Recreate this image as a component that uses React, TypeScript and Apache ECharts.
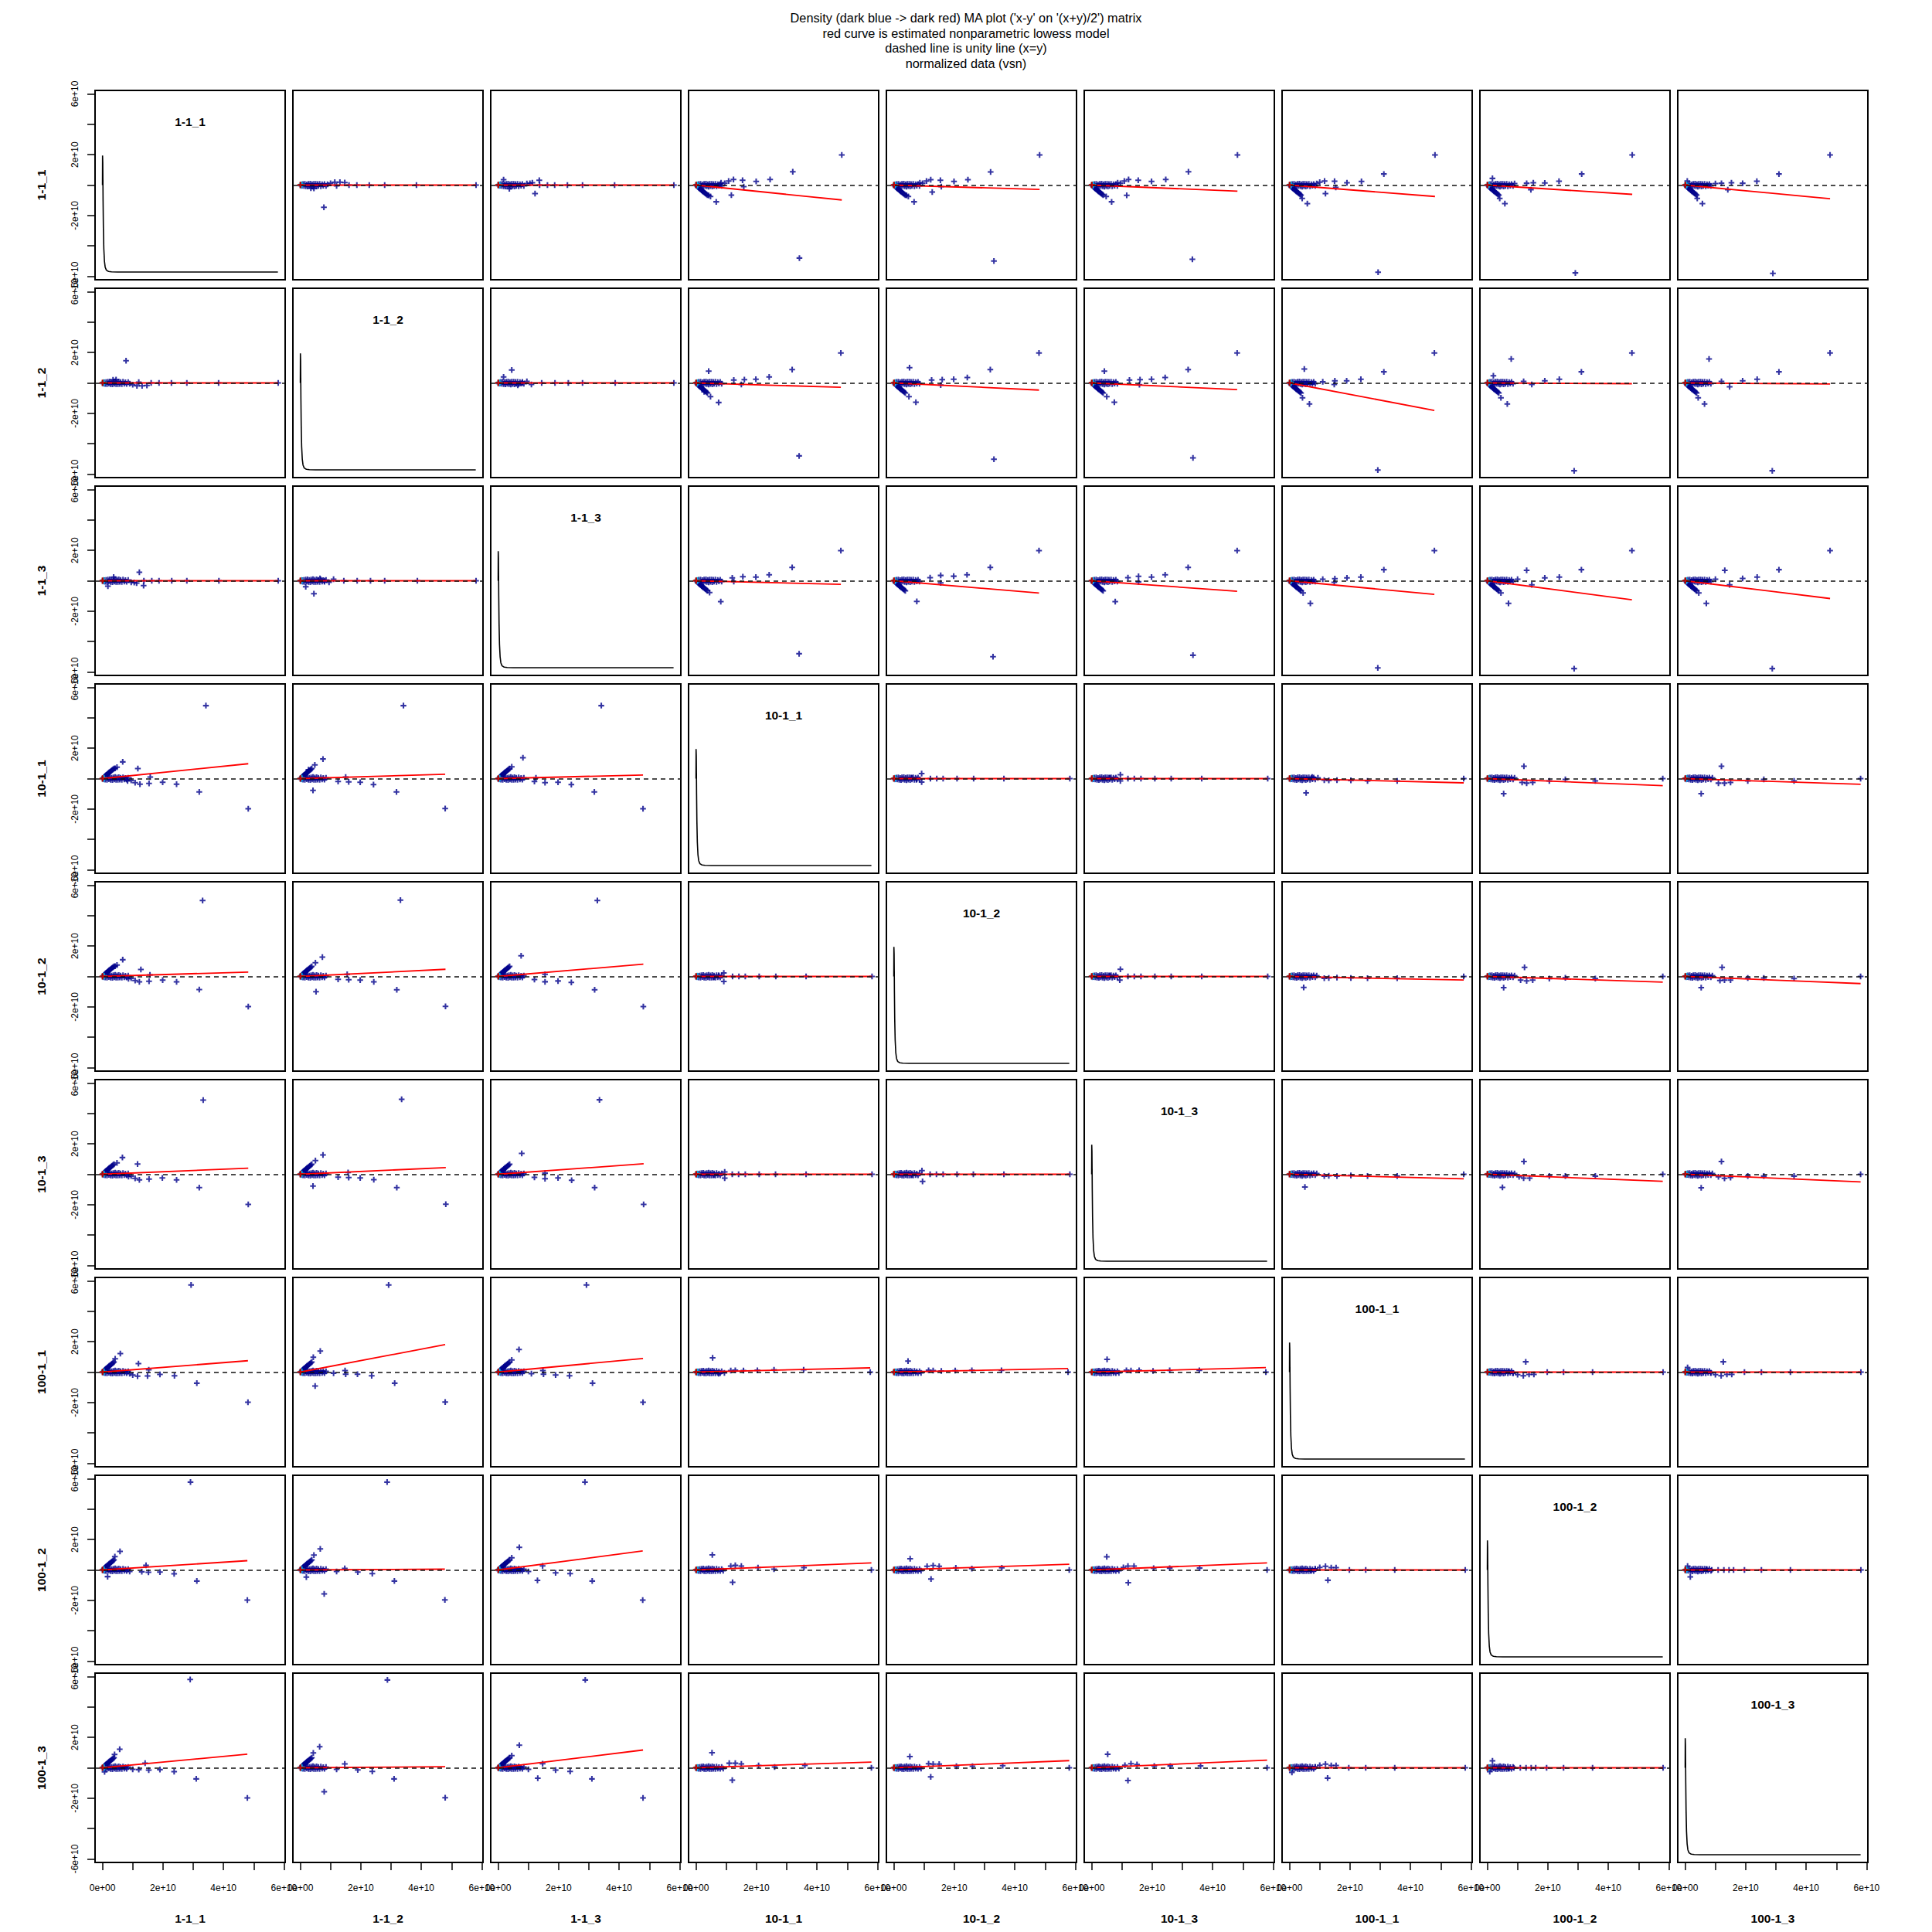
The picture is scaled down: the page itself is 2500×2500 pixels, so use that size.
import React, { useEffect, useRef } from 'react';
import * as echarts from 'echarts';

// ---------------- data (values in units of 1e10) ----------------
const sampleNames = ['1-1_1', '1-1_2', '1-1_3', '10-1_1', '10-1_2', '10-1_3', '100-1_1', '100-1_2', '100-1_3'];
const titleLines = [
  "Density (dark blue -> dark red) MA plot ('x-y' on '(x+y)/2') matrix",
  'red curve is estimated nonparametric lowess model',
  'dashed line is unity line (x=y)',
  'normalized data (vsn)',
];
const xTickValues = [0, 1, 2, 3, 4, 5, 6];
const xLabelValues = [0, 2, 4, 6];
const yTickValues = [-6, -4, -2, 0, 2, 4, 6];
const yLabelValues = [-6, -2, 2, 6];

// density curve on the diagonal panels (x = value, y = rescaled density)
const densityA = [0.0, 0.003, 0.006, 0.01, 0.015, 0.02, 0.03, 0.045, 0.065, 0.09, 0.13, 0.2, 0.3, 0.5, 1.0, 2.0, 3.5, 5.8];
const densityM = [0.0, 1.95, 1.95, 1.5, 0.3, -1.0, -2.8, -4.2, -5.0, -5.4, -5.6, -5.68, -5.71, -5.72, -5.72, -5.72, -5.72, -5.72];

// dense core of points near the origin (all panels)
const coreBand = [
  [0.03, 0.02], [0.06, -0.04], [0.09, 0.06], [0.12, -0.05], [0.15, 0.08], [0.18, -0.07], [0.21, 0.04],
  [0.24, -0.09], [0.27, 0.07], [0.3, -0.05], [0.33, 0.09], [0.36, -0.08], [0.39, 0.05], [0.42, -0.1],
  [0.45, 0.07], [0.48, -0.06], [0.51, 0.08], [0.54, -0.09], [0.57, 0.06], [0.6, -0.05], [0.64, 0.07],
  [0.68, -0.07], [0.72, 0.05], [0.76, -0.04], [0.8, 0.06], [0.85, -0.05],
];
// fan of points near the origin (1-1 samples against 10-1 / 100-1 samples)
const coreFan = [
  [0.05, -0.09], [0.07, -0.13], [0.09, -0.17], [0.11, -0.2], [0.13, -0.24], [0.15, -0.27], [0.17, -0.31],
  [0.19, -0.34], [0.21, -0.38], [0.23, -0.42], [0.26, -0.46], [0.29, -0.51], [0.32, -0.56], [0.35, -0.61],
  [0.38, -0.66],
];
// density-coloured points at the origin
const originDots = [[0.04, 0.04], [0.03, -0.04], [0.05, 0.0], [0.01, 0.01], [0.0, 0.0]];
const originDotColors = ['#00CED1', '#1E90FF', '#00BFFF', '#FF0000', '#8B0000'];

// outlying points per upper-triangle panel: [A, M]
const p01 = [[1.14, 0.19], [1.31, 0.19], [1.47, 0.17], [1.0, 0.12], [0.78, -1.46], [0.35, -0.2], [0.45, -0.22], [1.61, 0], [1.87, 0], [2.28, 0], [2.79, 0], [3.84, 0], [5.81, 0], [0.9, 0.05], [1.2, -0.05]];
const p02 = [[1.36, 0.32], [1.13, 0.15], [0.18, 0.36], [0.37, -0.24], [1.22, -0.56], [1.37, 0], [1.63, 0], [1.87, 0], [2.29, 0], [2.79, 0], [3.85, 0], [5.81, 0], [0.95, 0.1], [1.05, 0.12]];
const p03 = [[4.82, 1.98], [3.42, -4.8], [3.2, 0.88], [2.45, 0.37], [1.99, 0.24], [1.54, 0.32], [1.58, -0.1], [1.24, 0.37], [1.08, 0.27], [1.17, -0.66], [0.83, 0.15], [0.67, -1.1], [0.48, -0.75], [0.42, -0.68], [0.95, 0.12]];
const p04 = [[4.82, 1.98], [3.31, -5.0], [3.2, 0.86], [2.45, 0.36], [1.99, 0.24], [1.54, 0.32], [1.57, -0.1], [1.22, 0.36], [1.08, 0.27], [1.27, -0.46], [0.86, 0.15], [0.67, -1.1], [0.48, -0.75], [0.42, -0.68], [0.95, 0.12]];
const p05 = [[4.82, 1.98], [3.33, -4.88], [3.2, 0.88], [2.45, 0.37], [1.98, 0.24], [1.54, 0.32], [1.16, -0.67], [1.22, 0.37], [1.08, 0.27], [0.66, -1.1], [0.48, -0.75], [0.86, 0.15], [0.95, 0.12]];
const p06 = [[4.81, 1.98], [2.93, -5.73], [3.12, 0.73], [2.38, 0.24], [1.9, 0.15], [1.49, 0.25], [1.53, -0.15], [1.16, 0.27], [1.0, 0.19], [1.19, -0.56], [0.59, -1.22], [0.42, -0.88], [0.9, 0.1]];
const p07 = [[4.79, 1.98], [2.91, -5.78], [3.12, 0.73], [2.37, 0.25], [1.9, 0.14], [1.52, 0.15], [1.44, -0.3], [1.3, 0.12], [0.58, -1.22], [0.41, -0.88], [0.17, 0.44], [0.9, 0.1]];
const p08 = [[4.79, 1.98], [2.9, -5.81], [3.1, 0.73], [2.37, 0.25], [1.9, 0.12], [1.53, 0.15], [1.41, -0.3], [1.0, 0.1], [0.57, -1.22], [0.4, -0.88], [0.07, 0.27], [1.2, 0.12]];
const p12 = [[0.45, 0.85], [0.18, 0.39], [0.8, 0], [1.44, 0], [1.88, 0], [2.32, 0], [2.79, 0], [3.87, 0], [5.81, 0], [0.95, 0.1], [1.1, -0.1], [0.65, -0.15]];
const p13 = [[4.79, 1.97], [3.41, -4.8], [3.18, 0.88], [2.42, 0.39], [1.98, 0.24], [1.6, 0.22], [1.25, 0.19], [0.42, 0.78], [0.75, -1.29], [0.48, -0.9], [0.27, -0.58], [1.5, -0.1]];
const p14 = [[4.8, 1.97], [3.31, -5.02], [3.19, 0.88], [2.43, 0.36], [1.98, 0.24], [1.6, 0.22], [1.25, 0.19], [0.52, 1.0], [0.73, -1.27], [0.5, -0.9], [1.55, -0.14]];
const p15 = [[4.81, 1.97], [3.35, -4.93], [3.19, 0.88], [2.43, 0.36], [1.98, 0.24], [1.6, 0.22], [1.25, 0.19], [0.42, 0.78], [0.75, -1.27], [0.5, -0.9], [1.58, -0.12]];
const p16 = [[4.79, 1.97], [2.92, -5.73], [3.12, 0.73], [2.36, 0.24], [1.89, 0.14], [1.5, 0.14], [1.48, -0.1], [1.1, 0.07], [0.49, 0.92], [0.66, -1.39], [0.43, -0.98]];
const p17 = [[4.78, 1.97], [2.87, -5.78], [3.11, 0.73], [2.38, 0.24], [1.9, 0.14], [1.47, -0.1], [0.79, 1.58], [0.66, -1.39], [0.45, -0.98], [0.2, 0.47], [1.2, 0.1]];
const p18 = [[4.79, 1.97], [2.88, -5.78], [3.1, 0.73], [2.38, 0.24], [1.9, 0.14], [1.47, -0.25], [0.79, 1.58], [0.64, -1.39], [0.43, -0.98], [1.2, 0.1]];
const p23 = [[4.79, 1.98], [3.41, -4.8], [3.18, 0.88], [2.42, 0.39], [1.98, 0.24], [1.55, 0.27], [1.2, 0.19], [0.82, -1.37], [0.45, -0.78], [1.25, -0.05]];
const p24 = [[4.8, 1.98], [3.28, -5.0], [3.19, 0.88], [2.42, 0.39], [1.98, 0.3], [1.55, 0.35], [0.76, -1.36], [1.55, -0.14], [1.2, 0.2]];
const p25 = [[4.81, 1.98], [3.35, -4.9], [3.19, 0.88], [2.43, 0.39], [1.98, 0.24], [1.55, 0.29], [1.2, 0.2], [0.78, -1.37], [1.55, -0.07]];
const p26 = [[4.79, 1.98], [2.92, -5.73], [3.12, 0.73], [2.36, 0.24], [1.9, 0.19], [1.5, 0.14], [1.48, -0.1], [0.69, -1.49], [0.45, -0.8], [1.1, 0.1]];
const p27 = [[4.78, 1.98], [2.87, -5.78], [3.11, 0.73], [2.38, 0.24], [1.9, 0.19], [1.47, -0.27], [1.3, 0.69], [0.7, -1.49], [0.45, -0.8], [1.0, 0.1]];
const p28 = [[4.79, 1.98], [2.88, -5.78], [3.1, 0.73], [2.38, 0.24], [1.9, 0.15], [1.47, -0.27], [1.31, 0.69], [0.7, -1.49], [0.45, -0.8], [1.0, 0.1]];
const p34 = [[0.92, 0.33], [0.92, -0.23], [1.21, 0], [1.42, 0], [1.63, 0], [2.09, 0], [2.64, 0], [3.64, 0], [5.82, 0], [0.6, 0.05], [0.75, -0.08]];
const p35 = [[0.95, 0.25], [0.95, -0.15], [1.2, 0], [1.41, 0], [1.63, 0], [2.09, 0], [2.63, 0], [3.64, 0], [5.82, 0], [0.6, 0.05]];
const p36 = [[0.55, -0.94], [0.94, 0.05], [1.15, -0.1], [1.57, -0.1], [2.03, -0.12], [2.58, -0.15], [3.56, -0.15], [5.76, 0], [0.75, 0.1], [1.3, -0.12]];
const p37 = [[1.21, 0.81], [0.54, -0.99], [1.15, -0.25], [1.3, -0.3], [1.5, -0.25], [2.05, -0.15], [2.58, -0.05], [3.57, -0.15], [5.8, 0], [0.9, 0.05]];
const p38 = [[1.2, 0.81], [0.53, -0.99], [1.1, -0.3], [1.3, -0.3], [1.5, -0.25], [2.07, -0.15], [2.6, -0.05], [3.6, -0.15], [5.8, 0], [0.9, 0.05]];
const p45 = [[0.95, 0.47], [0.93, -0.24], [1.2, 0], [1.41, 0], [1.63, 0], [2.09, 0], [2.63, 0], [3.64, 0], [5.82, 0], [0.6, 0.05]];
const p46 = [[0.47, -0.72], [0.9, 0.05], [1.15, -0.12], [1.57, -0.07], [2.03, -0.1], [2.58, -0.12], [3.56, -0.12], [5.76, 0], [1.3, -0.1]];
const p47 = [[1.23, 0.6], [0.54, -0.74], [1.1, -0.24], [1.3, -0.29], [1.5, -0.24], [2.05, -0.14], [2.58, -0.09], [3.57, -0.14], [5.8, 0], [0.9, 0.05]];
const p48 = [[1.22, 0.6], [0.53, -0.74], [1.15, -0.27], [1.3, -0.24], [1.5, -0.24], [2.07, -0.1], [2.6, -0.1], [3.6, -0.14], [5.8, 0], [0.9, 0.05]];
const p56 = [[0.51, -0.84], [1.15, -0.12], [1.57, -0.12], [2.03, -0.07], [2.58, -0.12], [3.56, -0.12], [5.76, 0], [0.9, 0.05], [1.3, -0.1]];
const p57 = [[1.21, 0.84], [0.5, -0.86], [1.05, -0.17], [1.2, -0.25], [1.4, -0.25], [2.05, -0.12], [2.58, -0.12], [3.57, -0.12], [5.8, 0], [0.9, 0.05]];
const p58 = [[1.2, 0.84], [0.53, -0.89], [1.1, -0.17], [1.3, -0.27], [1.5, -0.22], [2.07, -0.12], [2.6, -0.12], [3.6, -0.12], [5.8, 0], [0.9, 0.05]];
const p67 = [[1.27, 0.68], [1.0, -0.17], [1.19, -0.24], [1.38, -0.15], [1.54, -0.15], [1.98, 0], [2.52, 0], [3.48, 0], [5.81, 0], [0.7, 0.05], [0.85, -0.08]];
const p68 = [[1.26, 0.68], [1.0, -0.17], [1.19, -0.24], [1.38, -0.15], [1.54, -0.15], [1.96, 0], [2.52, 0], [3.48, 0], [5.81, 0], [0.08, 0.3], [0.85, -0.05]];
const p78 = [[0.17, -0.46], [0.08, 0.25], [0.88, 0], [1.09, 0], [1.28, 0], [1.45, 0], [1.6, 0], [1.96, 0], [2.52, 0], [3.48, 0], [5.81, 0], [0.7, 0.05]];

// which upper panels carry the fan shape near the origin
const fanPanels = ['0-3', '0-4', '0-5', '0-6', '0-7', '0-8', '1-3', '1-4', '1-5', '1-6', '1-7', '1-8', '2-3', '2-4', '2-5', '2-6', '2-7', '2-8'];

// upper panels: [row, col, points]
const upperPanels: [number, number, number[][]][] = [
  [0, 1, p01], [0, 2, p02], [0, 3, p03], [0, 4, p04], [0, 5, p05], [0, 6, p06], [0, 7, p07], [0, 8, p08],
  [1, 2, p12], [1, 3, p13], [1, 4, p14], [1, 5, p15], [1, 6, p16], [1, 7, p17], [1, 8, p18],
  [2, 3, p23], [2, 4, p24], [2, 5, p25], [2, 6, p26], [2, 7, p27], [2, 8, p28],
  [3, 4, p34], [3, 5, p35], [3, 6, p36], [3, 7, p37], [3, 8, p38],
  [4, 5, p45], [4, 6, p46], [4, 7, p47], [4, 8, p48],
  [5, 6, p56], [5, 7, p57], [5, 8, p58],
  [6, 7, p67], [6, 8, p68],
  [7, 8, p78],
];

// lowess line end point per upper panel: [row, col, A, M] (line starts at the origin)
const lowessEnds = [
  [0, 1, 5.81, 0], [0, 2, 5.81, 0], [0, 3, 4.82, -0.98], [0, 4, 4.82, -0.29], [0, 5, 4.82, -0.4], [0, 6, 4.81, -0.75], [0, 7, 4.79, -0.61], [0, 8, 4.79, -0.9],
  [1, 2, 5.81, 0], [1, 3, 4.79, -0.29], [1, 4, 4.8, -0.47], [1, 5, 4.81, -0.44], [1, 6, 4.79, -1.81], [1, 7, 4.78, -0.05], [1, 8, 4.79, -0.07],
  [2, 3, 4.79, -0.24], [2, 4, 4.8, -0.81], [2, 5, 4.81, -0.69], [2, 6, 4.79, -0.9], [2, 7, 4.78, -1.25], [2, 8, 4.79, -1.17],
  [3, 4, 5.82, 0], [3, 5, 5.82, 0], [3, 6, 5.76, -0.28], [3, 7, 5.8, -0.46], [3, 8, 5.8, -0.38],
  [4, 5, 5.82, 0], [4, 6, 5.76, -0.24], [4, 7, 5.8, -0.37], [4, 8, 5.8, -0.47],
  [5, 6, 5.76, -0.3], [5, 7, 5.8, -0.46], [5, 8, 5.8, -0.5],
  [6, 7, 5.81, 0], [6, 8, 5.81, 0],
  [7, 8, 5.81, 0],
];

// ---------------- layout / style ----------------
const GRID_LEFT = 123;
const GRID_TOP = 117;
const CELL_W = 246;
const CELL_H = 245;
const STEP = 256;
const X_MIN = -0.245;
const X_MAX = 6.04;
const Y_MIN = -6.23;
const Y_MAX = 6.23;
const FONT = '"Liberation Sans", Arial, Helvetica, sans-serif';
const PLUS = 'path://M2.9,0L5.1,0L5.1,2.9L8,2.9L8,5.1L5.1,5.1L5.1,8L2.9,8L2.9,5.1L0,5.1L0,2.9L2.9,2.9Z';
const POINT_COLOR = '#00008B';

const fmt = (v: number) => (v === 0 ? '0e+00' : `${v}e+10`);

function buildOption() {
  const n = sampleNames.length;
  const grids: any[] = [];
  const xAxes: any[] = [];
  const yAxes: any[] = [];
  const series: any[] = [];
  const graphics: any[] = [];

  const panelPoints: Record<string, number[][]> = {};
  const panelLowess: Record<string, number[]> = {};
  upperPanels.forEach(([r, c, pts]) => {
    const fan = fanPanels.includes(`${r}-${c}`);
    const all = [...coreBand, ...(fan ? coreFan : []), ...pts];
    panelPoints[`${r}-${c}`] = all;
    panelPoints[`${c}-${r}`] = all.map(([a, m]) => [a, -m]);
  });
  lowessEnds.forEach(([r, c, a, m]) => {
    panelLowess[`${r}-${c}`] = [a, m];
    panelLowess[`${c}-${r}`] = [a, -m];
  });

  for (let r = 0; r < n; r++) {
    for (let c = 0; c < n; c++) {
      const idx = r * n + c;
      const left = GRID_LEFT + c * STEP;
      const top = GRID_TOP + r * STEP;
      grids.push({
        left, top, width: CELL_W, height: CELL_H,
        show: true, borderColor: '#000', borderWidth: 2, backgroundColor: 'transparent',
        containLabel: false, outerBoundsMode: 'none',
      });
      const bottom = r === n - 1;
      const leftCol = c === 0;
      xAxes.push({
        type: 'value', gridIndex: idx, min: X_MIN, max: X_MAX,
        splitLine: { show: false },
        axisLine: { show: false, onZero: false },
        axisTick: { show: bottom, length: 10, customValues: xTickValues, lineStyle: { color: '#000', width: 1.5 } },
        axisLabel: { show: bottom, customValues: xLabelValues, formatter: fmt, margin: 27, fontSize: 12, color: '#000', fontFamily: FONT },
        name: bottom ? sampleNames[c] : '',
        nameLocation: 'middle', nameGap: 64,
        nameTextStyle: { fontWeight: 'bold', fontSize: 15.5, color: '#000', fontFamily: FONT },
      });
      yAxes.push({
        type: 'value', gridIndex: idx, min: Y_MIN, max: Y_MAX,
        splitLine: { show: false },
        axisLine: { show: false, onZero: false },
        axisTick: { show: leftCol, length: 10, customValues: yTickValues, lineStyle: { color: '#000', width: 1.5 } },
        axisLabel: { show: leftCol, customValues: yLabelValues, formatter: fmt, rotate: 90, margin: 20, fontSize: 12, color: '#000', fontFamily: FONT },
        name: leftCol ? sampleNames[r] : '',
        nameLocation: 'middle', nameGap: 62,
        nameTextStyle: { fontWeight: 'bold', fontSize: 15.5, color: '#000', fontFamily: FONT },
      });

      if (r === c) {
        series.push({
          type: 'line', xAxisIndex: idx, yAxisIndex: idx,
          data: densityA.map((a, i) => [a, densityM[i]]),
          symbol: 'none', showSymbol: false,
          lineStyle: { color: '#000', width: 1.6 },
        });
        graphics.push({
          type: 'text', x: left + CELL_W / 2, y: top + 40,
          style: {
            text: sampleNames[r], fill: '#000',
            font: `bold 15.5px ${FONT}`,
            align: 'center', verticalAlign: 'middle',
            textAlign: 'center', textVerticalAlign: 'middle',
          },
        });
      } else {
        const key = `${r}-${c}`;
        series.push({
          type: 'scatter', xAxisIndex: idx, yAxisIndex: idx,
          data: panelPoints[key],
          symbol: PLUS, symbolSize: 7.5,
          itemStyle: { color: POINT_COLOR },
          z: 2,
          markLine: {
            silent: true, symbol: 'none', label: { show: false },
            lineStyle: { type: [6, 5], color: '#111', width: 1.7 },
            data: [{ yAxis: 0 }],
          },
        });
        series.push({
          type: 'scatter', xAxisIndex: idx, yAxisIndex: idx,
          data: originDots.map((p, i) => ({ value: p, itemStyle: { color: originDotColors[i] } })),
          symbol: PLUS, symbolSize: 8,
          z: 3,
        });
        const end = panelLowess[key];
        series.push({
          type: 'line', xAxisIndex: idx, yAxisIndex: idx,
          data: [[0, 0], end],
          symbol: 'none', showSymbol: false,
          lineStyle: { color: '#FF0000', width: 1.8 },
          z: 4,
        });
      }
    }
  }

  return {
    animation: false,
    backgroundColor: '#fff',
    textStyle: { fontFamily: FONT },
    title: {
      text: titleLines.join('\n'),
      left: 'center', top: 8,
      textStyle: { fontSize: 16.3, fontWeight: 'normal', color: '#000', lineHeight: 19.7, fontFamily: FONT },
    },
    grid: grids,
    xAxis: xAxes,
    yAxis: yAxes,
    series,
    graphic: graphics,
  };
}

export default function App() {
  const ref = useRef<HTMLDivElement>(null);
  useEffect(() => {
    if (!ref.current) return;
    const chart = echarts.init(ref.current, undefined, { renderer: 'svg' });
    chart.setOption(buildOption() as any);
    return () => chart.dispose();
  }, []);
  return (
    <div
      ref={ref}
      style={{ position: 'absolute', left: 0, top: 0, width: 2500, height: 2500, background: '#fff' }}
    />
  );
}
